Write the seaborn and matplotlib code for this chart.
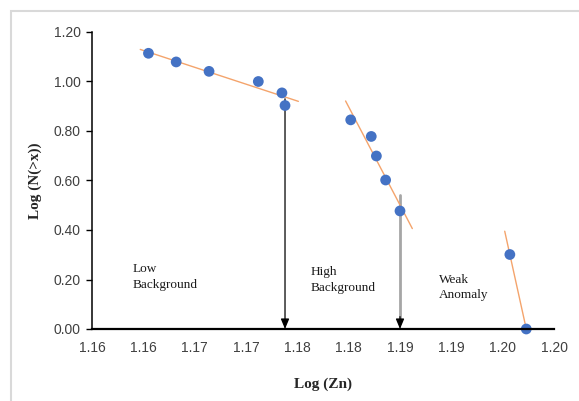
import matplotlib
matplotlib.use("Agg")
import matplotlib.pyplot as plt
import numpy as np
import pandas as pd
import seaborn as sns
from matplotlib.patches import Rectangle

# points: Log(Zn) vs Log(N(>x))
log_zn = [1.1605, 1.1632, 1.1664, 1.1712, 1.1735, 1.1738,
          1.1802, 1.1822, 1.1827, 1.1836, 1.1850,
          1.1957, 1.1973]
log_n = [1.114, 1.079, 1.041, 1.000, 0.954, 0.903,
         0.845, 0.778, 0.699, 0.602, 0.477,
         0.301, 0.000]
group = ["low"] * 6 + ["high"] * 5 + ["weak"] * 2

# threshold arrows (x position, top of the arrow)
arrow_x = [1.1738, 1.1850]
arrow_top = [0.93, 0.54]

# zone labels
zone_text = ["Low\nBackground", "High\nBackground", "Weak\nAnomaly"]
zone_x = [1.1590, 1.1763, 1.1888]
zone_y = [0.210, 0.198, 0.168]

xticks = [1.155, 1.160, 1.165, 1.170, 1.175, 1.180, 1.185, 1.190, 1.195, 1.200]
xtick_labels = ["1.16", "1.16", "1.17", "1.17", "1.18", "1.18", "1.19", "1.19", "1.20", "1.20"]
yticks = [0.0, 0.2, 0.4, 0.6, 0.8, 1.0, 1.2]

df = pd.DataFrame({"x": log_zn, "y": log_n, "group": group})

sns.set_style("white")
plt.rcParams['font.family'] = ['Liberation Sans', 'DejaVu Sans']

fig = plt.figure(figsize=(5.79, 4.01), dpi=100)
ax = fig.add_axes([92 / 579, 1 - 329 / 401, 462 / 579, 297 / 401])

# chart area border (Excel style, cut off at right/bottom)
fig.patches.append(Rectangle((11 / 579, -0.05), 1.2, 1 - 11 / 401 + 0.05,
                             transform=fig.transFigure, fill=False,
                             edgecolor='#d9d9d9', linewidth=1.5, zorder=0))

# linear trend lines per zone, extended a little like Excel's forecast option
ext = {"low": (0.0008, 0.0013), "high": (0.0005, 0.0012), "weak": (0.0005, 0.0003)}
for g, sub in df.groupby("group", sort=False):
    k, b = np.polyfit(sub["x"], sub["y"], 1)
    xs = np.array([sub["x"].min() - ext[g][0], sub["x"].max() + ext[g][1]])
    ax.plot(xs, k * xs + b, color='#f4a46c', linewidth=1.0, zorder=2)

# arrows marking the thresholds
ax.annotate('', xy=(arrow_x[0], 0), xytext=(arrow_x[0], arrow_top[0]),
            arrowprops=dict(arrowstyle='-|>,head_length=0.6,head_width=0.25',
                            color='black', linewidth=0.9, shrinkA=0, shrinkB=0),
            zorder=3)
ax.plot([arrow_x[1], arrow_x[1]], [arrow_top[1], 0.03], color='#a6a6a6',
        linewidth=2.0, zorder=1)
ax.annotate('', xy=(arrow_x[1], 0), xytext=(arrow_x[1], 0.05),
            arrowprops=dict(arrowstyle='-|>,head_length=0.6,head_width=0.25',
                            color='black', linewidth=0.9, shrinkA=0, shrinkB=0),
            zorder=3)

sns.scatterplot(data=df, x="x", y="y", ax=ax, color='#4472c4', s=60,
                edgecolor='none', zorder=4, legend=False, clip_on=False)

for t, x, y in zip(zone_text, zone_x, zone_y):
    ax.text(x, y, t, fontsize=9.5, family=['Liberation Serif'], ha='left',
            va='center', linespacing=1.35, color='#1a1a1a')

ax.set_xlim(1.155, 1.200)
ax.set_ylim(0, 1.2)
ax.set_xticks(xticks)
ax.set_xticklabels(xtick_labels)
ax.set_yticks(yticks)
ax.set_yticklabels(["%.2f" % v for v in yticks])
ax.tick_params(axis='x', length=0, pad=9, labelsize=10, labelcolor='#404040')
ax.tick_params(axis='y', length=4, width=1, color='black', direction='out',
               pad=4, labelsize=10, labelcolor='#404040', left=True)

for s in ['top', 'right']:
    ax.spines[s].set_visible(False)
ax.spines['left'].set_color('black')
ax.spines['left'].set_linewidth(1.1)
ax.spines['bottom'].set_color('black')
ax.spines['bottom'].set_linewidth(1.6)
ax.spines['bottom'].set_zorder(5)

ax.set_xlabel("Log (Zn)", fontsize=11, fontweight='bold', family=['Liberation Serif'])
ax.set_ylabel("Log (N(>x))", fontsize=11, fontweight='bold', family=['Liberation Serif'])
ax.xaxis.set_label_coords(0.5, -0.162)
ax.yaxis.set_label_coords(-0.108, 0.5)

fig.savefig("out.png", dpi=100)
